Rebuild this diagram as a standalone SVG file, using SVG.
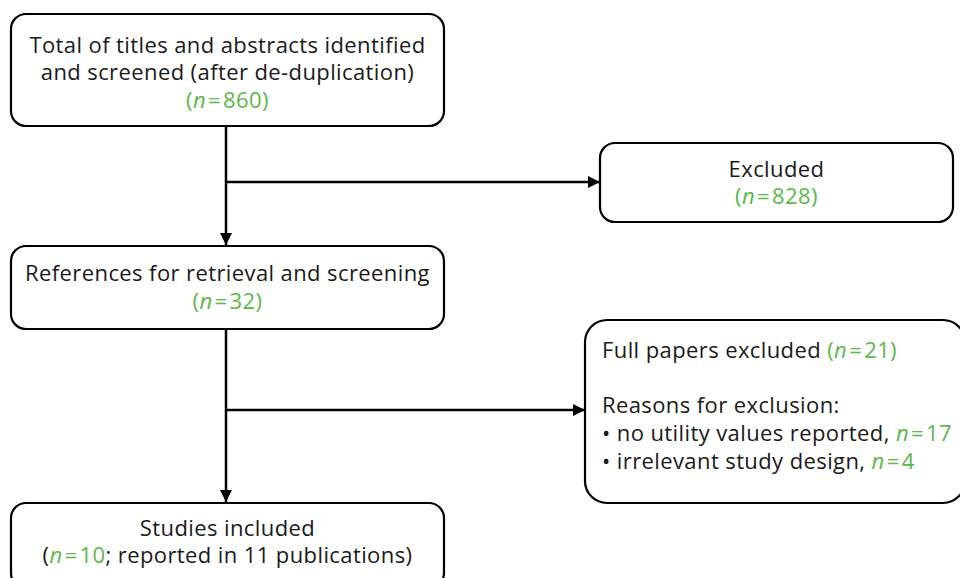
<svg xmlns="http://www.w3.org/2000/svg" width="960" height="578" viewBox="0 0 960 578">
<style>
.box{fill:#fff;stroke:#000;stroke-width:2.2}
.t{font-family:"Open Sans","Noto Sans",sans-serif;font-size:22px;letter-spacing:0.4px;fill:#1a1a1a}
.c{text-anchor:middle}
.g{fill:#5cb848}
.i{font-style:italic}
.ln{stroke:#000;stroke-width:2.5;fill:none}
</style>
<defs>
<marker id="ah" viewBox="0 0 12 12" refX="12" refY="6" markerWidth="12" markerHeight="12" markerUnits="userSpaceOnUse" orient="auto">
<path d="M0,0 L12,6 L0,12 Z" fill="#000"/>
</marker>
</defs>
<rect width="960" height="578" fill="#fff"/>
<g id="connectors">
<line class="ln" x1="226" y1="127" x2="226" y2="245" marker-end="url(#ah)"/>
<line class="ln" x1="226" y1="182" x2="600" y2="182" marker-end="url(#ah)"/>
<line class="ln" x1="226" y1="329" x2="226" y2="502" marker-end="url(#ah)"/>
<line class="ln" x1="226" y1="410" x2="585" y2="410" marker-end="url(#ah)"/>
</g>
<g id="n1">
<rect class="box" x="11" y="14" width="433" height="112" rx="15"/>
<text class="t c" x="227.5" y="53">Total of titles and abstracts identified</text>
<text class="t c" x="227.5" y="80">and screened (after de-duplication)</text>
<text class="t c g" x="227.5" y="108">(<tspan class="i">n</tspan><tspan dx="2">=</tspan><tspan dx="2">860)</tspan></text>
</g>
<g id="n2">
<rect class="box" x="600" y="143" width="353" height="79" rx="15"/>
<text class="t c" x="776.5" y="177">Excluded</text>
<text class="t c g" x="776.5" y="204">(<tspan class="i">n</tspan><tspan dx="2">=</tspan><tspan dx="2">828)</tspan></text>
</g>
<g id="n3">
<rect class="box" x="11" y="246" width="433" height="83" rx="15"/>
<text class="t c" x="227.5" y="281">References for retrieval and screening</text>
<text class="t c g" x="227.5" y="309">(<tspan class="i">n</tspan><tspan dx="2">=</tspan><tspan dx="2">32)</tspan></text>
</g>
<g id="n4">
<rect class="box" x="585" y="320" width="380" height="183" rx="22"/>
<text class="t" x="602" y="358">Full papers excluded <tspan class="g">(<tspan class="i">n</tspan><tspan dx="2">=</tspan><tspan dx="2">21)</tspan></tspan></text>
<text class="t" x="602" y="413">Reasons for exclusion:</text>
<text class="t" x="602" y="441">• no utility values reported, <tspan class="g"><tspan class="i">n</tspan><tspan dx="2">=</tspan><tspan dx="2">17</tspan></tspan></text>
<text class="t" x="602" y="469">• irrelevant study design, <tspan class="g"><tspan class="i">n</tspan><tspan dx="2">=</tspan><tspan dx="2">4</tspan></tspan></text>
</g>
<g id="n5">
<rect class="box" x="11" y="503" width="433" height="85" rx="15"/>
<text class="t c" x="227.5" y="536">Studies included</text>
<text class="t c" x="227.5" y="563">(<tspan class="g"><tspan class="i">n</tspan><tspan dx="2">=</tspan><tspan dx="2">10</tspan></tspan>; reported in 11 publications)</text>
</g>
</svg>
